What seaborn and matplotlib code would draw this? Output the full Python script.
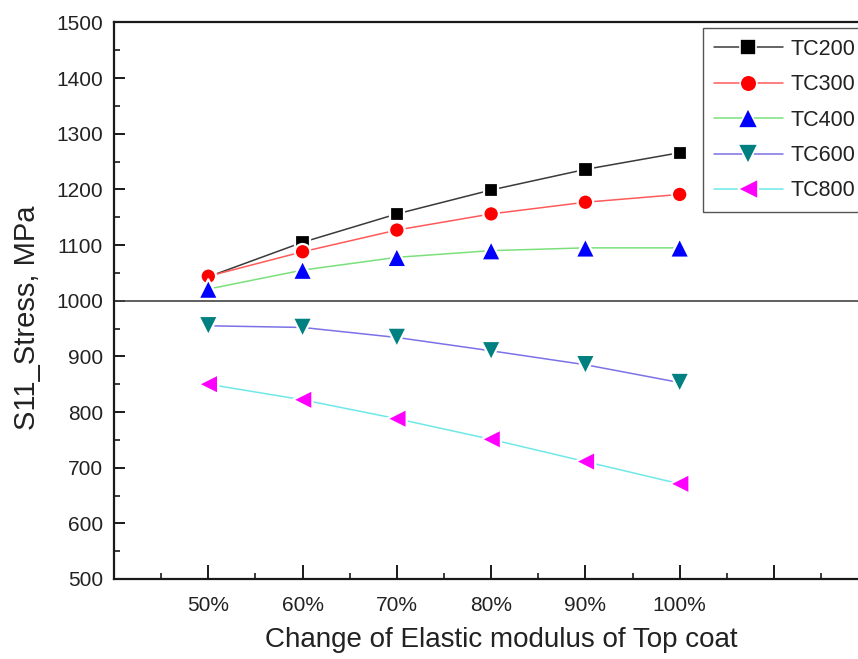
import numpy as np
import pandas as pd
import matplotlib
matplotlib.use("Agg")
import matplotlib.pyplot as plt
from matplotlib.lines import Line2D
from matplotlib.ticker import MultipleLocator, FuncFormatter
import seaborn as sns

# Elastic modulus change of the top coat (%)
modulus_pct = [50, 60, 70, 80, 90, 100]

# S11 stress (MPa) for each top-coat thickness
tc200 = [1043, 1105, 1156, 1199, 1236, 1266]
tc300 = [1044, 1088, 1127, 1156, 1177, 1191]
tc400 = [1021, 1055, 1078, 1090, 1095, 1095]
tc600 = [955, 952, 934, 910, 885, 853]
tc800 = [850, 822, 788, 751, 711, 671]

series_names = ["TC200", "TC300", "TC400", "TC600", "TC800"]
series_values = [tc200, tc300, tc400, tc600, tc800]

x_tick_labels = ["50%", "60%", "70%", "80%", "90%", "100%"]

line_colors = ["#3a3a3a", "#ff5a5a", "#7be07b", "#7a72e6", "#6fe8e8"]
marker_colors = ["#000000", "#ff0000", "#0000ff", "#008080", "#ff00ff"]
marker_shapes = ["s", "o", "^", "v", "<"]
marker_areas = [105, 125, 200, 200, 200]
legend_marker_sizes = [11, 12, 14, 14, 14]

df = pd.DataFrame({
    "modulus": np.tile(modulus_pct, len(series_names)),
    "stress": np.concatenate(series_values),
    "series": np.repeat(series_names, len(modulus_pct)),
})

sns.set_theme(style="white")
plt.rcParams["font.family"] = ["Liberation Sans", "DejaVu Sans"]

fig = plt.figure(figsize=(8.58, 6.59), dpi=100)
ax = fig.add_axes([0.1329, 0.1214, 0.879, 0.8445])

sns.lineplot(data=df, x="modulus", y="stress", hue="series",
             palette=dict(zip(series_names, line_colors)),
             linewidth=1.1, legend=False, ax=ax, zorder=2)
sns.scatterplot(data=df, x="modulus", y="stress", hue="series", style="series",
                size="series",
                palette=dict(zip(series_names, marker_colors)),
                markers=dict(zip(series_names, marker_shapes)),
                sizes=dict(zip(series_names, marker_areas)),
                edgecolor="white", linewidth=1.6,
                legend=False, ax=ax, zorder=3)

ax.axhline(1000, color="#444444", linewidth=1.2, zorder=1)

ax.set_xlim(40, 120)
ax.set_ylim(500, 1500)

ax.xaxis.set_major_locator(MultipleLocator(10))
ax.xaxis.set_minor_locator(MultipleLocator(5))
label_map = dict(zip(modulus_pct, x_tick_labels))
ax.xaxis.set_major_formatter(FuncFormatter(lambda v, p: label_map.get(int(round(v)), "")))
ax.yaxis.set_major_locator(MultipleLocator(100))
ax.yaxis.set_minor_locator(MultipleLocator(50))

ax.tick_params(axis="both", which="both", bottom=True, left=True, top=False, right=False)
ax.tick_params(axis="both", which="major", direction="in", length=8, width=1.4,
               labelsize=15, colors="#1a1a1a", labelcolor="#222222", pad=8)
ax.tick_params(axis="both", which="minor", direction="in", length=4, width=1.2,
               colors="#1a1a1a")
ax.tick_params(axis="x", which="major", length=10, pad=12)

for side in ["left", "bottom", "top", "right"]:
    ax.spines[side].set_color("#1a1a1a")
    ax.spines[side].set_linewidth(1.6)
    ax.spines[side].set_visible(True)

ax.set_xlabel("Change of Elastic modulus of Top coat", fontsize=20, color="#222222")
ax.xaxis.set_label_coords(0.513, -(627 - 579) / 556.5)
ax.set_ylabel("S11_Stress, MPa", fontsize=21, color="#222222")
ax.yaxis.set_label_coords(-(114 - 41) / 754, (579 - 318) / 556.5)

handles = [Line2D([0], [0], color=lc, linewidth=1.1, marker=m, markersize=ms,
                  markerfacecolor=mc, markeredgecolor="white", markeredgewidth=1.2)
           for lc, mc, m, ms in zip(line_colors, marker_colors, marker_shapes,
                                    legend_marker_sizes)]
leg = fig.legend(handles, series_names, loc="upper left",
                 bbox_to_anchor=(703 / 858, 1 - 28 / 659), borderaxespad=0,
                 fontsize=15.5, frameon=True, fancybox=False, framealpha=1,
                 edgecolor="#555555", handlelength=3.2, handletextpad=0.35,
                 labelspacing=0.67, borderpad=0.5)
leg.get_frame().set_linewidth(1.0)
for t in leg.get_texts():
    t.set_color("#222222")

fig.savefig("out.png", dpi=100)
